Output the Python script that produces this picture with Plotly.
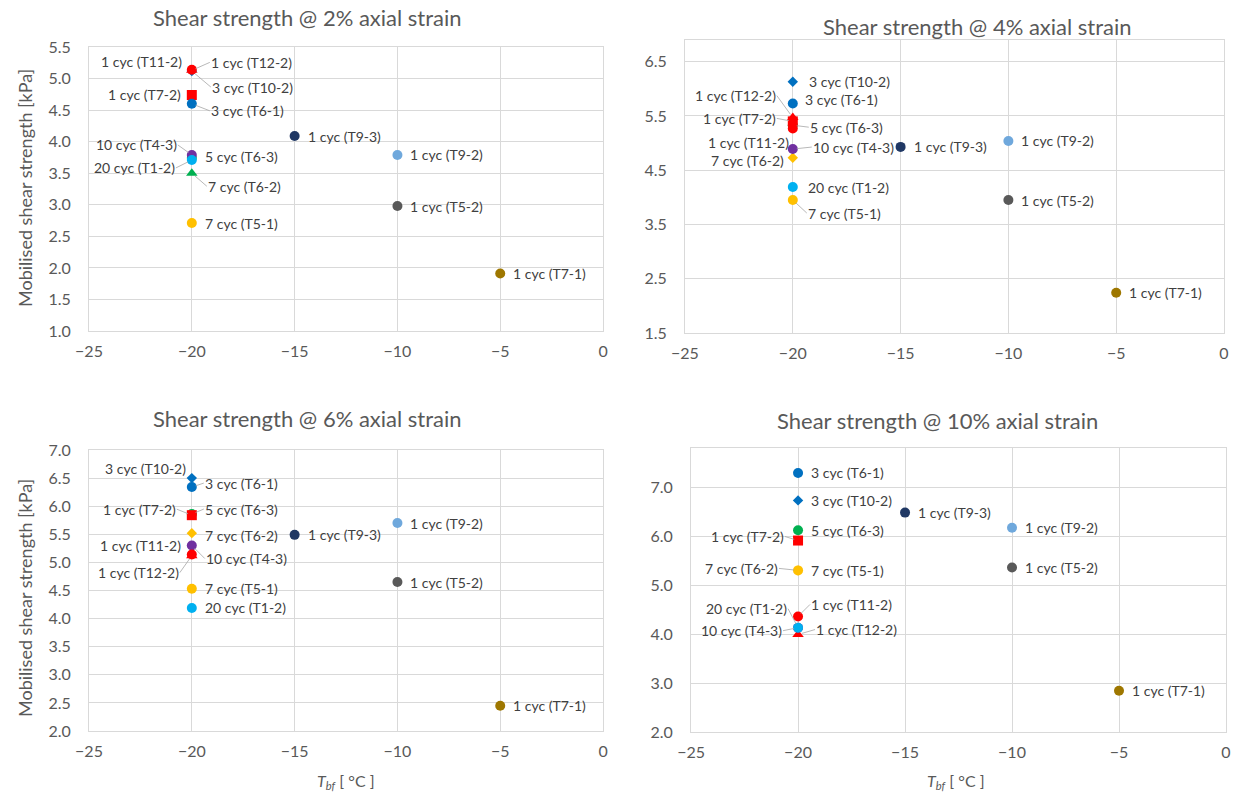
import plotly.graph_objects as go

# Test specimens, number of cycles and freezing temperature
tests = ["T1-2", "T4-3", "T5-1", "T5-2", "T6-1", "T6-2", "T6-3",
         "T7-1", "T7-2", "T9-2", "T9-3", "T10-2", "T11-2", "T12-2"]
cycles = [20, 10, 7, 1, 3, 7, 5, 1, 1, 1, 1, 3, 1, 1]
temp_bf = [-20, -20, -20, -10, -20, -20, -20, -5, -20, -10, -15, -20, -20, -20]

# Mobilised shear strength [kPa] at each axial strain level
strength_2 = [3.71, 3.79, 2.71, 2.98, 4.60, 3.50, 3.74, 1.91, 4.74, 3.79, 4.09, 5.12, 5.14, 5.13]
strength_4 = [4.19, 4.89, 3.95, 3.95, 5.73, 4.73, 5.33, 2.24, 5.40, 5.04, 4.93, 6.13, 5.27, 5.47]
strength_6 = [4.19, 5.30, 4.53, 4.65, 6.34, 5.52, 5.86, 2.45, 5.84, 5.70, 5.49, 6.50, 5.14, 5.12]
strength_10 = [4.13, 4.13, 5.30, 5.36, 7.29, 5.30, 6.12, 2.84, 5.91, 6.17, 6.48, 6.73, 4.36, 3.99]

strain_levels = ["2%", "4%", "6%", "10%"]
y_ticks = [
    [1.0, 1.5, 2.0, 2.5, 3.0, 3.5, 4.0, 4.5, 5.0, 5.5],
    [1.5, 2.5, 3.5, 4.5, 5.5, 6.5],
    [2.0, 2.5, 3.0, 3.5, 4.0, 4.5, 5.0, 5.5, 6.0, 6.5, 7.0],
    [2.0, 3.0, 4.0, 5.0, 6.0, 7.0],
]
x_ticks = [-25, -20, -15, -10, -5, 0]

# ---- styling ----
FONT = "Lato"
LABEL_C = "#404040"
AXIS_C = "#595959"
GRID_C = "#D9D9D9"
LEADER_C = "#A6A6A6"

STYLE = {
    "T1-2": ("circle", "#00B0F0", 10),
    "T4-3": ("circle", "#7030A0", 10),
    "T5-1": ("circle", "#FFC000", 10),
    "T5-2": ("circle", "#595959", 10),
    "T6-1": ("circle", "#0070C0", 10),
    "T6-2": ("diamond", "#FFC000", 8),
    "T6-3": ("circle", "#00B050", 10),
    "T7-1": ("circle", "#9E7700", 10),
    "T7-2": ("square", "#FF0000", 10),
    "T9-2": ("circle", "#6FA8DC", 10),
    "T9-3": ("circle", "#203864", 10),
    "T10-2": ("diamond", "#0070C0", 8),
    "T11-2": ("circle", "#FF0000", 10),
    "T12-2": ("triangle-up", "#FF0000", 10),
}
STYLE_OVERRIDE = {0: {"T6-2": ("triangle-up", "#00B050", 10)}}

# drawing order (later points sit on top)
DRAW_ORDER = ["T12-2", "T10-2", "T6-3", "T6-2", "T4-3", "T11-2", "T7-2",
              "T1-2", "T5-1", "T6-1", "T9-3", "T9-2", "T5-2", "T7-1"]

# data label placement: (dx px, dy px, leader line)
R = (12, 0, False)
LABEL_POS = [
    {"T11-2": (-9, -8, False), "T12-2": (18, -8, True), "T10-2": (19, 16, True),
     "T7-2": (-10, 0, False), "T6-1": (18, 7, True), "T4-3": (-14, -10, True),
     "T6-3": (12, -2, False), "T1-2": (-16, 8, True), "T6-2": (15, 13, True)},
    {"T10-2": (15, 0, False), "T6-1": (11, -4, False), "T12-2": (-16, -22, True),
     "T7-2": (-16, -3, True), "T6-3": (16, 2, True), "T11-2": (-3, 14, False),
     "T4-3": (19, -2, True), "T6-2": (-8, 3, False), "T1-2": (14, 0, False),
     "T5-1": (14, 13, True)},
    {"T10-2": (-5, -10, False), "T6-1": (12, -4, True), "T7-2": (-15, -6, True),
     "T6-3": (12, -5, True), "T6-2": (12, 2, False), "T11-2": (-10, -9, False),
     "T4-3": (13, 13, True), "T12-2": (-12, 17, True)},
    {"T7-2": (-13, -4, True), "T6-2": (-19, -2, True), "T11-2": (12, -12, True),
     "T1-2": (-10, -19, True), "T4-3": (-15, 3, True), "T12-2": (17, -5, True)},
]

# panel geometry (paper fractions) and y ranges
X_DOM = [[0.0719, 0.4871], [0.5533, 0.9887], [0.0719, 0.4871], [0.5582, 0.9903]]
Y_DOM = [[0.5847, 0.9410], [0.5822, 0.9498], [0.0828, 0.4354], [0.0816, 0.4379]]
Y_RANGE = [[1.0, 5.5], [1.5, 6.9], [2.0, 7.0], [2.0, 7.8]]
TITLE_POS = [(307, 18), (977, 27), (307, 419), (937, 420)]

W, H = 1238, 797
values = [strength_2, strength_4, strength_6, strength_10]

fig = go.Figure()
annotations = []
for p in range(4):
    xa = "x" if p == 0 else f"x{p + 1}"
    ya = "y" if p == 0 else f"y{p + 1}"
    idx = [tests.index(t) for t in DRAW_ORDER]
    sty = [STYLE_OVERRIDE.get(p, {}).get(tests[i], STYLE[tests[i]]) for i in idx]
    fig.add_trace(go.Scatter(
        x=[temp_bf[i] for i in idx],
        y=[values[p][i] for i in idx],
        mode="markers",
        xaxis=xa, yaxis=ya,
        marker=dict(symbol=[s[0] for s in sty], color=[s[1] for s in sty],
                    size=[s[2] for s in sty], opacity=1, line=dict(width=0)),
        hovertext=[tests[i] for i in idx],
        showlegend=False,
    ))
    for i, t in enumerate(tests):
        dx, dy, leader = LABEL_POS[p].get(t, R)
        annotations.append(dict(
            x=temp_bf[i], y=values[p][i], xref=xa, yref=ya,
            text=f"{cycles[i]} cyc ({t})",
            showarrow=True, ax=dx, ay=dy, axref="pixel", ayref="pixel",
            xanchor="left" if dx > 0 else "right", yanchor="middle",
            arrowhead=0, arrowwidth=0.8, standoff=4,
            arrowcolor=LEADER_C if leader else "rgba(0,0,0,0)",
            font=dict(family=FONT, size=14, color=LABEL_C),
            borderpad=0,
        ))
    tx, ty = TITLE_POS[p]
    annotations.append(dict(
        x=tx / W, y=1 - ty / H, xref="paper", yref="paper",
        text=f"Shear strength @ {strain_levels[p]} axial strain",
        showarrow=False, xanchor="center", yanchor="middle",
        font=dict(family=FONT, size=22, color=AXIS_C),
    ))

    axis_common = dict(showgrid=True, gridcolor=GRID_C, gridwidth=1,
                       zeroline=False, showline=True, linecolor=GRID_C,
                       mirror=True, ticks="", automargin=False,
                       tickfont=dict(family=FONT, size=16, color=AXIS_C))
    fig.layout[("xaxis" if p == 0 else f"xaxis{p + 1}")] = dict(
        axis_common, domain=X_DOM[p], range=[-25, 0], tickvals=x_ticks,
        anchor=ya, ticklabelstandoff=6)
    fig.layout[("yaxis" if p == 0 else f"yaxis{p + 1}")] = dict(
        axis_common, domain=Y_DOM[p], range=Y_RANGE[p], tickvals=y_ticks[p],
        tickformat=".1f", anchor=xa, ticklabelstandoff=14)

# shared axis titles
for cy in (188, 598):
    annotations.append(dict(
        x=25 / W, y=1 - cy / H, xref="paper", yref="paper",
        text="Mobilised shear strength [kPa]", textangle=-90,
        showarrow=False, xanchor="center", yanchor="middle",
        font=dict(family=FONT, size=18, color=AXIS_C)))
for cx in (346, 956):
    annotations.append(dict(
        x=cx / W, y=1 - 781 / H, xref="paper", yref="paper",
        text="<i>T</i><sub><i>bf</i></sub> [ °C ]",
        showarrow=False, xanchor="center", yanchor="middle",
        font=dict(family=FONT, size=16, color=AXIS_C)))

fig.update_layout(
    width=W, height=H, margin=dict(l=0, r=0, t=0, b=0),
    paper_bgcolor="white", plot_bgcolor="white",
    annotations=annotations,
)
fig.write_html("out.html")
